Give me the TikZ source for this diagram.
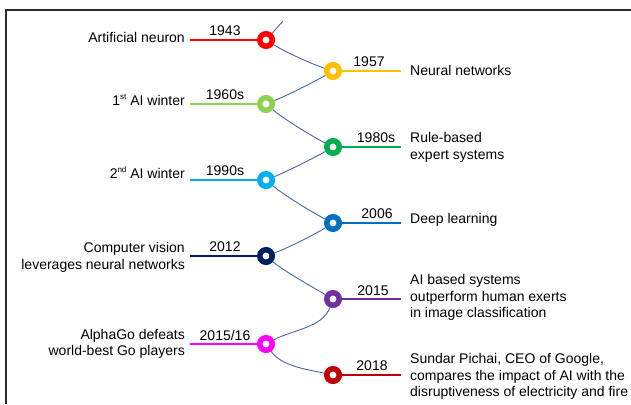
\documentclass[tikz,border=0pt]{standalone}
\usepackage{fontspec}
\setmainfont{Liberation Sans}
\definecolor{c1col}{HTML}{FF0000}
\definecolor{c2col}{HTML}{FFC000}
\definecolor{c3col}{HTML}{92D050}
\definecolor{c4col}{HTML}{00B050}
\definecolor{c5col}{HTML}{00B0F0}
\definecolor{c6col}{HTML}{0070C0}
\definecolor{c7col}{HTML}{002060}
\definecolor{c8col}{HTML}{7030A0}
\definecolor{c9col}{HTML}{FF00FF}
\definecolor{c10col}{HTML}{C00000}
\definecolor{connblue}{HTML}{4A66AA}
\definecolor{framecol}{HTML}{2B2B2B}
\newcommand{\supsmall}[1]{\raisebox{0.45em}{\fontsize{8}{8}\selectfont #1}}
\begin{document}
\begin{tikzpicture}[x=1pt,y=-1pt, font=\fontsize{14}{16.5}\selectfont,
  ring/.style={circle, draw=#1, fill=white, line width=5.5pt, minimum size=12.5pt, inner sep=0pt},
  tickline/.style={draw=#1, line width=1.5pt},
  conn/.style={draw=connblue, line width=0.9pt, looseness=0.6},
  framestyle/.style={draw=framecol, line width=1.5pt},
  yearlbl/.style={anchor=base, inner sep=0pt},
  ltext/.style={anchor=east, align=right, inner sep=0pt},
  rtext/.style={anchor=west, align=left, inner sep=0pt}]
\useasboundingbox (0,0) rectangle (631,404);
\draw[framestyle] (6,404) -- (6,10) -- (631,10);

% rings
\node[ring=c1col] (c1) at (266,40) {};
\node[ring=c2col] (c2) at (333,71) {};
\node[ring=c3col] (c3) at (266,104) {};
\node[ring=c4col] (c4) at (333,147) {};
\node[ring=c5col] (c5) at (266,180) {};
\node[ring=c6col] (c6) at (333,223) {};
\node[ring=c7col] (c7) at (266,256) {};
\node[ring=c8col] (c8) at (333,299) {};
\node[ring=c9col] (c9) at (266,344) {};
\node[ring=c10col] (c10) at (333,375) {};

% connectors
\coordinate (top) at (283,21);
\draw[conn] (top) -- (c1);
\draw[conn] (c1) to[out=-32,in=162] (c2);
\draw[conn] (c2) to[out=210,in=22] (c3);
\draw[conn] (c3) to[out=-40,in=153] (c4);
\draw[conn] (c4) to[out=210,in=22] (c5);
\draw[conn] (c5) to[out=-40,in=153] (c6);
\draw[conn] (c6) to[out=212,in=20] (c7);
\draw[conn] (c7) to[out=-40,in=150] (c8);
\draw[conn] (c8) to[out=-110,in=28,looseness=0.85] (c9);
\draw[conn] (c9) to[out=-55,in=168,looseness=0.8] (c10);

% tick lines
\coordinate (l1) at (190,40);
\coordinate (r2) at (401,71);
\coordinate (l3) at (190,104);
\coordinate (r4) at (401,147);
\coordinate (l5) at (190,180);
\coordinate (r6) at (401,223);
\coordinate (l7) at (190,256);
\coordinate (r8) at (401,299);
\coordinate (l9) at (190,344);
\coordinate (r10) at (401,375);
\draw[tickline=c1col] (l1) -- (c1);
\draw[tickline=c2col] (c2) -- (r2);
\draw[tickline=c3col] (l3) -- (c3);
\draw[tickline=c4col] (c4) -- (r4);
\draw[tickline=c5col] (l5) -- (c5);
\draw[tickline=c6col] (c6) -- (r6);
\draw[tickline=c7col] (l7) -- (c7);
\draw[tickline=c8col] (c8) -- (r8);
\draw[tickline=c9col] (l9) -- (c9);
\draw[tickline=c10col] (c10) -- (r10);

% years
\node[yearlbl] (y1) at (225,35.5) {1943};
\node[yearlbl] (y2) at (369,66.5) {1957};
\node[yearlbl] (y3) at (225,99.5) {1960s};
\node[yearlbl] (y4) at (376,142) {1980s};
\node[yearlbl] (y5) at (225,175.5) {1990s};
\node[yearlbl] (y6) at (377,218) {2006};
\node[yearlbl] (y7) at (225,251) {2012};
\node[yearlbl] (y8) at (373,295) {2015};
\node[yearlbl] (y9) at (225,340) {2015/16};
\node[yearlbl] (y10) at (372,370.5) {2018};

% texts
\node[ltext] (t1) at (185,37) {Artificial neuron};
\node[rtext] (t2) at (410,70) {Neural networks};
\node[ltext] (t3) at (185,100) {1\supsmall{st} AI winter};
\node[rtext] (t4) at (410,147.5) {Rule-based\\expert systems};
\node[ltext] (t5) at (185,173) {2\supsmall{nd} AI winter};
\node[rtext] (t6) at (410,219.5) {Deep learning};
\node[ltext] (t7) at (185,257.5) {Computer vision\\leverages neural networks};
\node[rtext] (t8) at (410,297.5) {AI based systems\\outperform human exerts\\in image classification};
\node[ltext] (t9) at (185,344) {AlphaGo defeats\\world-best Go players};
\node[rtext] (t10) at (410,376.5) {Sundar Pichai, CEO of Google,\\compares the impact of AI with the\\disruptiveness of electricity and fire};
\end{tikzpicture}
\end{document}
